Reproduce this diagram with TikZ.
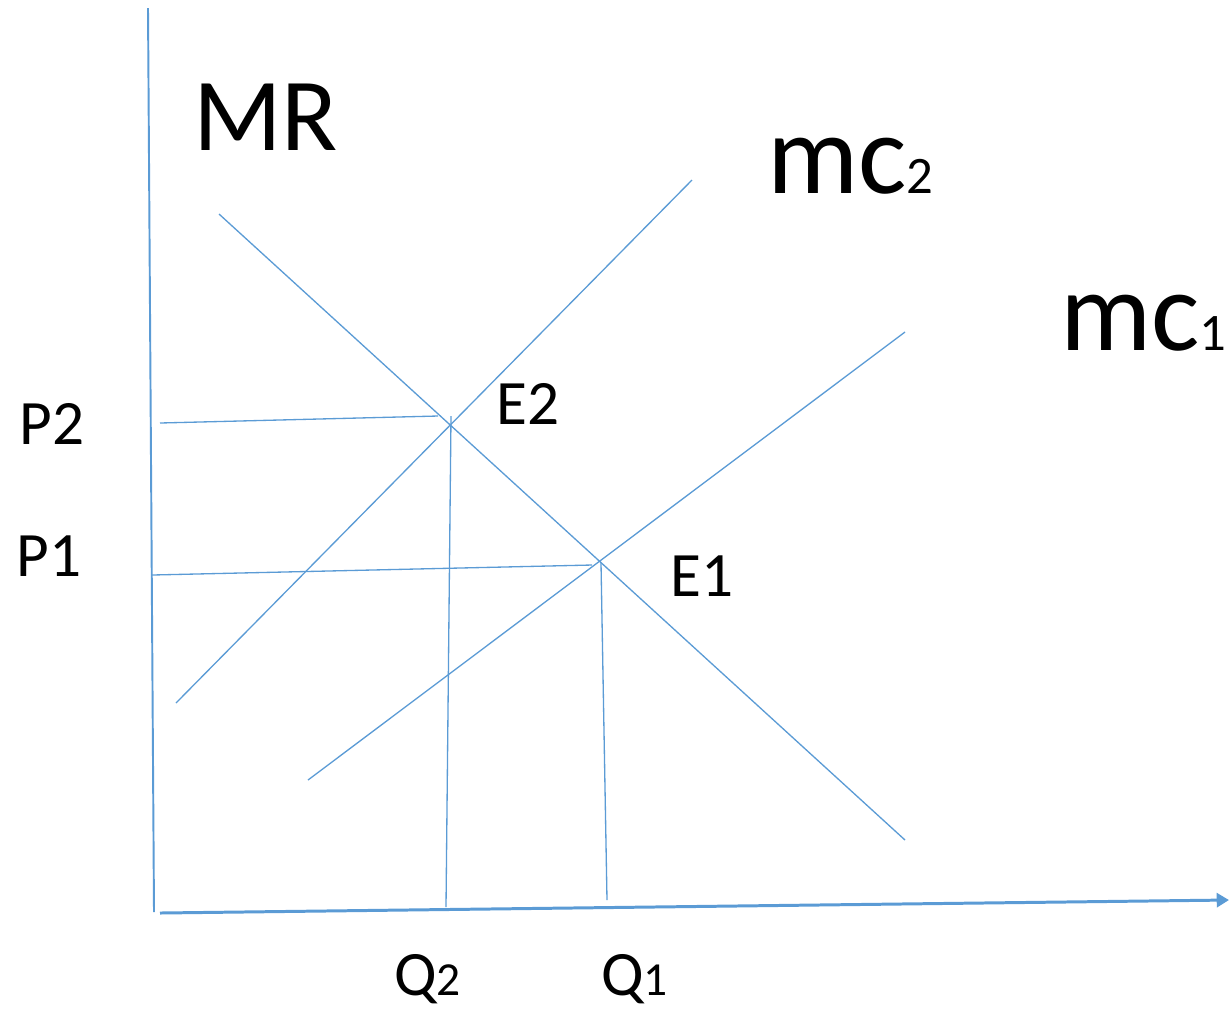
\documentclass[tikz,border=0pt]{standalone}
\usepackage{fontspec}
\setmainfont{Carlito}
\usetikzlibrary{arrows.meta}
\definecolor{ln}{HTML}{5B9BD5}
\tikzset{
  curve/.style={draw=ln, line width=0.75pt},
  lbl/.style={inner sep=0pt, anchor=base west, text=black},
}
\newcommand{\bigtxt}{\fontsize{59}{59}\selectfont}
\newcommand{\mctxt}{\fontsize{65}{65}\selectfont}
\newcommand{\mcsub}{\fontsize{30}{30}\selectfont}
\newcommand{\midtxt}{\fontsize{36}{36}\selectfont}
\newcommand{\qsub}{\fontsize{27}{27}\selectfont}
\begin{document}
\begin{tikzpicture}[x=0.02cm,y=-0.02cm]
\useasboundingbox (0,0) rectangle (1230,1009);
% axes
\coordinate (yt) at (148,8);
\coordinate (yb) at (154,912);
\coordinate (xl) at (160,913);
\coordinate (xr) at (1229,900);
\draw[ln, line width=1.1pt] (yt) -- (yb);
\draw[ln, line width=1.7pt, -{Triangle[length=7pt,width=8pt]}] (xl) -- (xr);
% curves
\coordinate (mrA) at (219,214);
\coordinate (mrB) at (905,840);
\coordinate (c2A) at (176,703);
\coordinate (c2B) at (692,180);
\coordinate (c1A) at (308,780);
\coordinate (c1B) at (905,332);
\draw[curve] (mrA) -- (mrB);
\draw[curve] (c2A) -- (c2B);
\draw[curve] (c1A) -- (c1B);
% guide lines
\coordinate (p2A) at (160,423);
\coordinate (p2B) at (438,416);
\coordinate (p1A) at (152,575);
\coordinate (p1B) at (592,565);
\coordinate (q2A) at (451,416);
\coordinate (q2B) at (446,907);
\coordinate (q1A) at (601,563);
\coordinate (q1B) at (607,900);
\draw[curve] (p2A) -- (p2B);
\draw[curve] (p1A) -- (p1B);
\draw[curve] (q2A) -- (q2B);
\draw[curve] (q1A) -- (q1B);
% labels
\node[lbl] (MR) at (193,150) {\bigtxt MR};
\node[lbl] (mc2) at (767,193) {\mctxt mc\mcsub 2};
\node[lbl] (mc1) at (1060,350) {\mctxt mc\mcsub 1};
\node[lbl] (P2) at (19,444) {\midtxt P2};
\node[lbl] (P1) at (16,576) {\midtxt P1};
\node[lbl] (E2) at (496,424) {\midtxt E2};
\node[lbl] (E1) at (670,596) {\midtxt E1};
\node[lbl] (Q2) at (394,995) {\midtxt Q\qsub 2};
\node[lbl] (Q1) at (601,995) {\midtxt Q\qsub 1};
\end{tikzpicture}
\end{document}
